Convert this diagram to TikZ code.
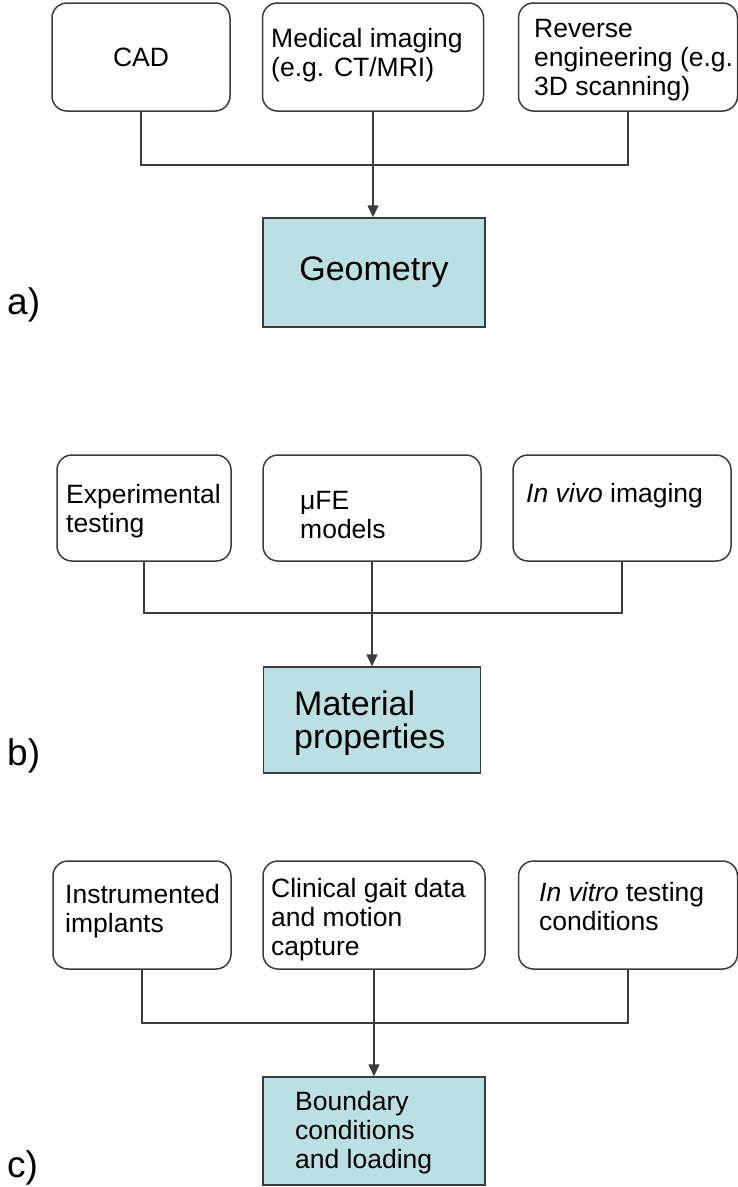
\documentclass[tikz,border=0pt]{standalone}
\usepackage{fontspec}
\setmainfont{Liberation Sans}
\usetikzlibrary{arrows.meta,positioning}
\definecolor{boxteal}{RGB}{187,224,227}
\definecolor{edge}{RGB}{60,60,60}

\begin{document}
\begin{tikzpicture}[x=1pt,y=-1pt,
  src/.style={draw=edge,line width=1.5pt,rounded corners=15pt,inner sep=0pt,minimum height=108pt,font=\fontsize{26.5}{29}\selectfont},
  res/.style={draw=edge,line width=1.5pt,fill=boxteal,inner sep=0pt,minimum height=108pt,font=\fontsize{34}{34}\selectfont},
  txt/.style={anchor=base west,inner sep=0pt,align=left,font=\fontsize{26.5}{29}\selectfont},
  bigtxt/.style={txt,font=\fontsize{34}{33}\selectfont},
  tag/.style={anchor=base west,inner sep=0pt,font=\fontsize{37}{37}\selectfont},
  link/.style={draw=edge,line width=1.5pt},
  arr/.style={link,-{Triangle[length=12pt,width=11pt]}}]
\useasboundingbox (0,0) rectangle (738,1187);

% a) geometry (text nodes sit on the baseline of their last line)
\node[src,minimum width=178pt] (cad) at (141,57) {CAD};
\node[src,minimum width=221pt] (med) at (373,57) {};
\node[src,minimum width=219pt] (rev) at (628,57) {};
\node[txt] (medtxt) at (271,76) {Medical imaging\\(e.g. CT/MRI)};
\node[txt] (revtxt) at (534,95) {Reverse\\engineering (e.g.\\3D scanning)};
\node[res,minimum width=222pt,minimum height=109pt] (geo) at (374,272.5) {Geometry};
\coordinate (ajoin) at (373,165);
\draw[link] (cad.south) |- (ajoin) -| (rev.south);
\draw[arr] (med.south) -- (med.south |- geo.north);
\node[tag] (taga) at (7,314) {a)};

% b) material properties
\node[src,minimum width=174pt,minimum height=106pt] (exp) at (144,508) {};
\node[src,minimum width=218pt,minimum height=106pt] (mufe) at (372,508) {};
\node[src,minimum width=218pt,minimum height=106pt] (vivo) at (622,508) {};
\node[txt] (exptxt) at (66,532) {Experimental\\testing};
\node[txt] (mufetxt) at (300,538) {μFE\\models};
\node[txt] (vivotxt) at (526,502) {\textit{In vivo} imaging};
\node[res,minimum width=217pt,minimum height=106pt] (mat) at (372,720) {};
\node[bigtxt] (mattxt) at (294,748) {Material\\properties};
\coordinate (bjoin) at (372,613);
\draw[link] (exp.south) |- (bjoin) -| (vivo.south);
\draw[arr] (mufe.south) -- (mufe.south |- mat.north);
\node[tag] (tagb) at (7,765) {b)};

% c) boundary conditions
\node[src,minimum width=178pt] (instr) at (142,915) {};
\node[src,minimum width=222pt] (gait) at (374,915) {};
\node[src,minimum width=219pt] (vitro) at (628,915) {};
\node[txt] (instrtxt) at (65,932) {Instrumented\\implants};
\node[txt] (gaittxt) at (271,955) {Clinical gait data\\and motion\\capture};
\node[txt] (vitrotxt) at (539,930) {\textit{In vitro} testing\\conditions};
\node[res,minimum width=222pt] (bound) at (374,1131) {};
\node[txt] (boundtxt) at (295,1168) {Boundary\\conditions\\and loading};
\coordinate (cjoin) at (374,1023);
\draw[link] (instr.south) |- (cjoin) -| (vitro.south);
\draw[arr] (gait.south) -- (gait.south |- bound.north);
\node[tag] (tagc) at (7,1177) {c)};
\end{tikzpicture}
\end{document}
